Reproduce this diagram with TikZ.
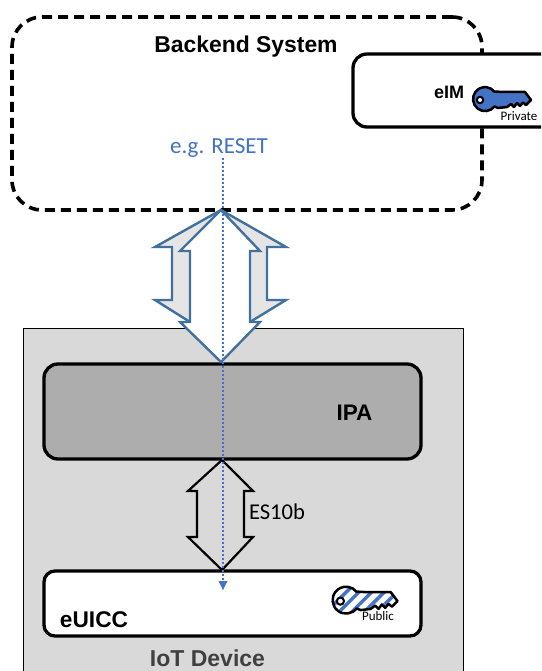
\documentclass[tikz,border=0pt]{standalone}
\usepackage{fontspec}
\setmainfont{Liberation Sans}
\newfontfamily\calfont{Carlito}
\usetikzlibrary{patterns.meta}
\usetikzlibrary{arrows.meta}
\definecolor{resetblue}{RGB}{68,114,196}
\definecolor{steelline}{RGB}{65,113,156}
\tikzset{
  treebox/.style = {rectangle, draw=black, line width=3.3pt, rounded corners=14pt, inner sep=0pt},
  lbl_b/.style = {font=\bfseries, inner sep=0pt},
  lbl_c/.style = {font=\calfont, inner sep=0pt},
  arrow_s/.style = {draw=steelline, line width=2.4pt, line join=miter},
  arrow_k/.style = {draw=black, line width=2.2pt, fill=none, line join=miter},
  pics/keyicon/.style = {code={
    \path[pic actions, draw=black, line width=2.5pt, line join=round]
      (9.5,-7.5) .. controls (13,-7) .. (18,-7) -- (40,-7) -- (46,1) -- (41,6) -- (38,3.5) -- (35,7) -- (32,4)
      -- (29,8) -- (26,5) -- (22,8) -- (13,9) -- (9.5,7.5) arc (38:322:12) -- cycle;
    \draw[line width=2pt, fill=white] (-5,1) circle (3.2);
  }},
}
\begin{document}
\begin{tikzpicture}[x=1pt,y=-1pt]
  \clip (0,0) rectangle (541,671);
  \fill[white] (0,0) rectangle (541,671);
  % backend
  \node[treebox, line width=3.6pt, dashed, dash pattern=on 10pt off 6pt, rounded corners=30pt, minimum width=470pt, minimum height=193pt] (backend) at (247,113.5) {};
  \node[lbl_b, font=\bfseries\fontsize{22.9}{27}\selectfont] (backendlbl) at (246,46.5) {Backend System};
  \node[treebox, fill=white, minimum width=220pt, minimum height=73pt] (eim) at (463,90.5) {};
  \node[lbl_b, font=\bfseries\fontsize{18}{21}\selectfont] (eimlbl) at (449,92) {eIM};
  \pic[fill=resetblue] at (485,99) {keyicon};
  \node[lbl_c, font=\calfont\fontsize{13}{15}\selectfont] (private) at (519,116) {Private};
  % device
  \node[rectangle, draw=black, fill=black!15, line width=1pt, minimum width=440pt, minimum height=360pt, inner sep=0pt] (iot) at (243,508) {};
  \node[lbl_b, text=black!75, font=\bfseries\fontsize{23}{27}\selectfont] (iotlbl) at (207.5,658) {IoT Device};
  \node[treebox, fill=black!32, minimum width=377pt, minimum height=95pt] (ipa) at (232.5,411.5) {};
  \node[lbl_b, font=\bfseries\fontsize{22.5}{27}\selectfont] (ipalbl) at (354.5,413) {IPA};
  \node[treebox, fill=white, rounded corners=11pt, minimum width=377pt, minimum height=65pt] (euicc) at (232.5,603.5) {};
  \node[lbl_b, font=\bfseries\fontsize{22.7}{27}\selectfont] (euicclbl) at (94,620) {eUICC};
  \pic[pattern={Lines[angle=45,distance=9pt,line width=3.5pt]}, pattern color=resetblue, scale=1.12] at (346,600) {keyicon};
  \node[lbl_c, font=\calfont\fontsize{13}{15}\selectfont] (public) at (378,616) {Public};
  % arrows
  \draw[arrow_s, fill=black!10] (221,210) -- (155,247) -- (172,247) -- (172,300) -- (155,300) -- (190,322)
    -- (250,322) -- (286,300) -- (267,300) -- (267,247) -- (286,247) -- cycle;
  \draw[arrow_s, fill=white] (221,210) -- (180,251) -- (190,251) -- (190,322) -- (180,322) -- (221,362)
    -- (260,322) -- (250,322) -- (250,251) -- (260,251) -- cycle;
  \draw[arrow_k] (222,460) -- (188,491) -- (197,491) -- (197,537) -- (188,537) -- (222,570)
    -- (253,537) -- (244,537) -- (244,491) -- (253,491) -- cycle;
  \node[lbl_c, font=\calfont\fontsize{22.6}{27}\selectfont] (es) at (277,512) {ES10b};
  % reset
  \node[lbl_c, text=resetblue, font=\calfont\fontsize{23}{27}\selectfont] (reset) at (219,148) {e.g. RESET};
  \coordinate (resetend) at (223,591);
  \draw[resetblue, line width=2pt, dash pattern=on 2pt off 2pt, -{Latex[length=10pt,width=10pt]}] (reset.south -| resetend) -- (resetend);
\end{tikzpicture}
\end{document}
